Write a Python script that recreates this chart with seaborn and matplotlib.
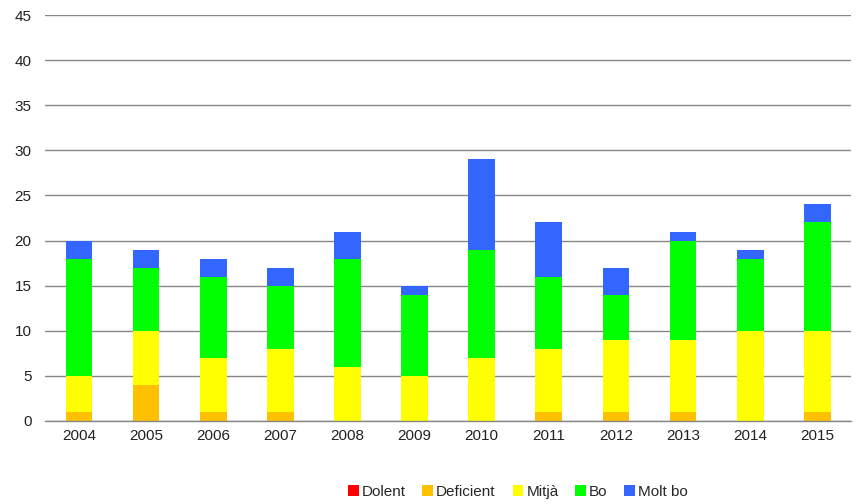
import numpy as np
import pandas as pd
import matplotlib
matplotlib.use("Agg")
import matplotlib.pyplot as plt
import seaborn as sns
from matplotlib.patches import Patch

years = ["2004", "2005", "2006", "2007", "2008", "2009", "2010", "2011", "2012", "2013", "2014", "2015"]
dolent = [0, 0, 0, 0, 0, 0, 0, 0, 0, 0, 0, 0]
deficient = [1, 4, 1, 1, 0, 0, 0, 1, 1, 1, 0, 1]
mitja = [4, 6, 6, 7, 6, 5, 7, 7, 8, 8, 10, 9]
bo = [13, 7, 9, 7, 12, 9, 12, 8, 5, 11, 8, 12]
molt_bo = [2, 2, 2, 2, 3, 1, 10, 6, 3, 1, 1, 2]

series_names = ["Dolent", "Deficient", "Mitjà", "Bo", "Molt bo"]
series_vals = [dolent, deficient, mitja, bo, molt_bo]
colors = ["#FF0000", "#FFC000", "#FFFF00", "#00FF00", "#3366FF"]

sns.set_style("white")
plt.rcParams["font.family"] = ["Liberation Sans", "DejaVu Sans"]

fig = plt.figure(figsize=(8.56, 5.04), dpi=100)
ax = fig.add_axes([0.053, 0.165, 0.941, 0.805])

cum = np.cumsum(np.array(series_vals, dtype=float), axis=0)
for i in range(len(series_names) - 1, -1, -1):
    df = pd.DataFrame({"year": years, "value": cum[i]})
    sns.barplot(data=df, x="year", y="value", color=colors[i], width=0.4,
                saturation=1, ax=ax, zorder=3, linewidth=0, errorbar=None)

ax.set_ylim(0, 45)
ax.set_yticks(range(0, 46, 5))
ax.set_xlim(-0.5, len(years) - 0.5)
ax.yaxis.grid(True, color="#868686", linewidth=1, zorder=0)
ax.set_axisbelow(True)
ax.set_xlabel("")
ax.set_ylabel("")
for s in ["top", "right", "left"]:
    ax.spines[s].set_visible(False)
ax.spines["bottom"].set_color("#868686")
ax.spines["bottom"].set_linewidth(1)
ax.spines["bottom"].set_zorder(4)

# category boundary ticks
ax.set_xticks(np.arange(len(years)))
ax.set_xticklabels(years)
ax.set_xticks(np.arange(-0.5, len(years), 1), minor=True)
ax.tick_params(axis="x", which="major", length=0, labelsize=11, colors="#222222", pad=6)
ax.tick_params(axis="x", which="minor", length=5, color="#868686", width=1, direction="out")
ax.tick_params(axis="y", length=0, labelsize=11, colors="#222222", pad=10)

handles = [Patch(facecolor=c, edgecolor="none") for c in colors]
fig.legend(handles, series_names, loc="center", bbox_to_anchor=(0.605, 0.024), ncol=5,
           frameon=False, fontsize=11, handlelength=0.7, handleheight=0.7,
           handletextpad=0.2, columnspacing=1.1)

fig.savefig("out.png", dpi=100, facecolor="white")
